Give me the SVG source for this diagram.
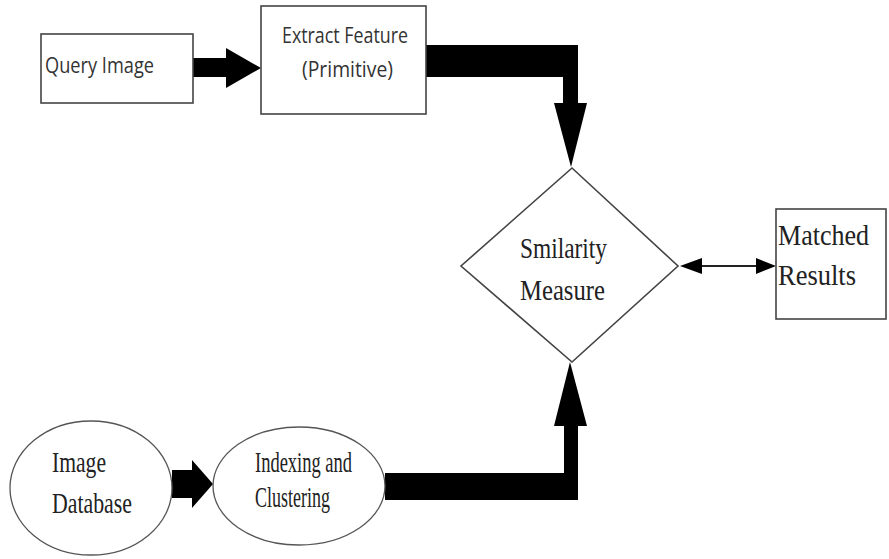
<svg xmlns="http://www.w3.org/2000/svg" width="889" height="559" viewBox="0 0 889 559">
<style>
.box{fill:#fff;stroke:#444;stroke-width:1.6}
.ell{fill:#fff;stroke:#555;stroke-width:1.3}
.sans{font-family:"Open Sans","Liberation Sans",sans-serif;fill:#333;font-size:22px}
.serif{font-family:"Liberation Serif","Times New Roman",serif;fill:#222;font-size:30px}
.thick{fill:#000}
.thin{stroke:#222;stroke-width:2;fill:none}
</style>
<rect width="889" height="559" fill="#fff"/>
<g id="connectors">
<polygon class="thick" points="193,58 226,58 226,48 261,68 226,88 226,77 193,77"/>
<polygon class="thick" points="426,45 578,45 578,103 587,103 571,167 554,103 563,103 563,77 426,77"/>
<polygon class="thick" points="385,473 564,473 564,426 554,426 570,362 587,426 578,426 578,500 385,500"/>
<polygon class="thick" points="172,470 192,470 192,460 213,484 192,508 192,498 172,498"/>
<line class="thin" x1="700" y1="266" x2="758" y2="266"/>
<path d="M680,266 L702,258 L702,274 z M776,266 L756,258 L756,274 z" fill="#000"/>
</g>
<g id="query">
<rect class="box" x="41" y="34" width="152" height="69"/>
<text class="sans" x="45" y="73" textLength="109" lengthAdjust="spacingAndGlyphs">Query Image</text>
</g>
<g id="extract">
<rect class="box" x="261" y="6" width="165" height="108"/>
<text class="sans" x="282" y="43" textLength="126" lengthAdjust="spacingAndGlyphs">Extract Feature</text>
<text class="sans" x="302" y="77" textLength="91" lengthAdjust="spacingAndGlyphs">(Primitive)</text>
</g>
<g id="similarity">
<polygon class="box" points="572,168 678,266 572,362 461,266"/>
<text class="serif" x="520" y="258" textLength="87" lengthAdjust="spacingAndGlyphs">Smilarity</text>
<text class="serif" x="520" y="300" textLength="85" lengthAdjust="spacingAndGlyphs">Measure</text>
</g>
<g id="matched">
<rect class="box" x="776" y="209" width="110" height="110"/>
<text class="serif" x="778" y="245" textLength="91" lengthAdjust="spacingAndGlyphs">Matched</text>
<text class="serif" x="778" y="285" textLength="78" lengthAdjust="spacingAndGlyphs">Results</text>
</g>
<g id="imagedb">
<ellipse class="ell" cx="91" cy="488" rx="81" ry="67"/>
<text class="serif" x="52" y="472" textLength="54" lengthAdjust="spacingAndGlyphs">Image</text>
<text class="serif" x="52" y="513" textLength="80" lengthAdjust="spacingAndGlyphs">Database</text>
</g>
<g id="indexing">
<ellipse class="ell" cx="299" cy="486" rx="86" ry="59"/>
<text class="serif" x="255" y="472" font-size="27" textLength="97" lengthAdjust="spacingAndGlyphs">Indexing and</text>
<text class="serif" x="255" y="507" font-size="27" textLength="75" lengthAdjust="spacingAndGlyphs">Clustering</text>
</g>
</svg>
